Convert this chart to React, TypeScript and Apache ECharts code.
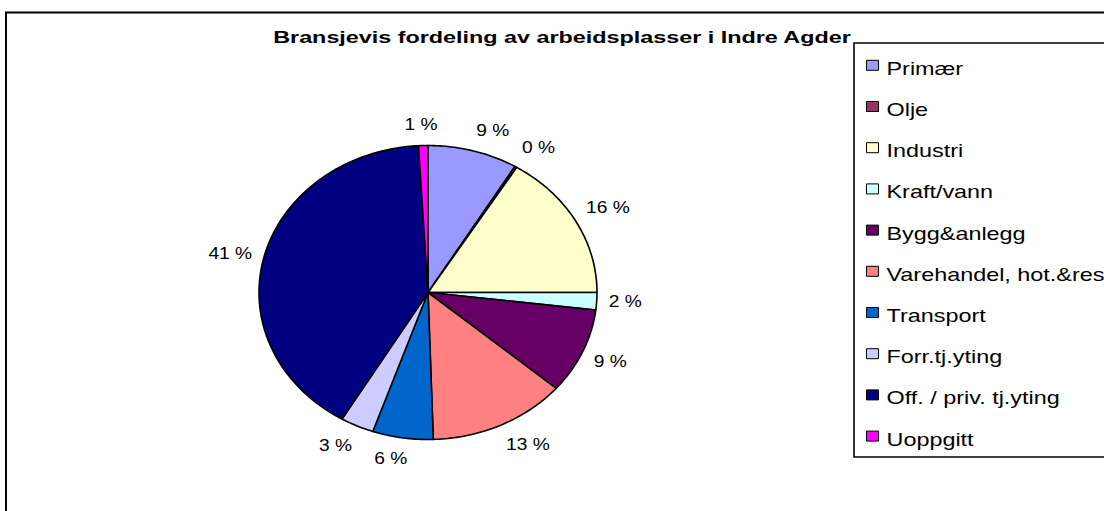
import React, { useEffect, useRef } from "react";
import * as echarts from "echarts";

const chartTitle = "Bransjevis fordeling av arbeidsplasser i Indre Agder";
const categories = [
  "Primær",
  "Olje",
  "Industri",
  "Kraft/vann",
  "Bygg&anlegg",
  "Varehandel, hot.&rest.",
  "Transport",
  "Forr.tj.yting",
  "Off. / priv. tj.yting",
  "Uoppgitt",
];
const shares = [8.6, 0.2, 16.2, 1.9, 9.4, 13.2, 5.8, 3.2, 40.6, 0.9];
const colors = [
  "#9999FF",
  "#993366",
  "#FFFFCC",
  "#CCFFFF",
  "#660066",
  "#FF8080",
  "#0066CC",
  "#CCCCFF",
  "#000080",
  "#FF00FF",
];

const FONT = "'Liberation Sans', Arial, sans-serif";

export default function App() {
  const ref = useRef<HTMLDivElement>(null);

  useEffect(() => {
    if (!ref.current) return;
    const chart = echarts.init(ref.current, undefined, { renderer: "svg" });

    const total = shares.reduce((a, b) => a + b, 0);
    const starts: number[] = [];
    let acc = 0;
    shares.forEach((v) => {
      starts.push(acc);
      acc += v;
    });

    const cx = 428;
    const cy = 292.5;
    const rx = 169;
    const ry = 147;
    const labelScale = 1.2;
    const labelSize = 16;

    const textWidth = (s: string) => {
      let w = 0;
      for (const ch of s) {
        if (ch === " ") w += 0.278;
        else if (ch === "%") w += 0.889;
        else w += 0.556;
      }
      return w * labelSize * labelScale;
    };

    const renderItem = (params: any, api: any) => {
      const i = params.dataIndex;
      const v = api.value(1) as number;
      const a0 = (starts[i] / total) * Math.PI * 2;
      const a1 = ((starts[i] + v) / total) * Math.PI * 2;
      const n = Math.max(2, Math.ceil((a1 - a0) / (Math.PI / 180)));
      const pts: number[][] = [[cx, cy]];
      for (let k = 0; k <= n; k++) {
        const t = a0 + ((a1 - a0) * k) / n;
        pts.push([cx + rx * Math.sin(t), cy - ry * Math.cos(t)]);
      }
      const tm = (a0 + a1) / 2;
      const s = Math.sin(tm);
      const c = Math.cos(tm);
      const label = Math.round((v / total) * 100) + " %";
      const hw = textWidth(label) / 2;
      const hh = 9;
      const g = 12;
      const fx = Math.sign(s) * Math.min(1, Math.abs(s) * 4);
      const fy = Math.sign(c) * Math.min(1, Math.max(0, Math.abs(c) - 0.2) * 3);
      const px = cx + (rx + g) * s + hw * fx;
      const py = cy - (ry + g) * c - hh * fy;
      return {
        type: "group",
        children: [
          {
            type: "polygon",
            shape: { points: pts },
            style: {
              fill: colors[i],
              stroke: "#000",
              lineWidth: 1.6,
              lineJoin: "round",
            },
          },
          {
            type: "text",
            x: px,
            y: py,
            scaleX: labelScale,
            style: {
              text: label,
              fontFamily: FONT,
              fontSize: labelSize,
              fill: "#000",
              align: "center",
              verticalAlign: "middle",
            },
          },
        ],
      };
    };

    const legendTop = 68.3;
    const legendStep = 41.2;
    const legendItems: any[] = [];
    categories.forEach((name, i) => {
      const yc = legendTop + legendStep * i;
      legendItems.push({
        type: "rect",
        shape: { x: 866.5, y: yc - 8, width: 12, height: 10 },
        style: { fill: colors[i], stroke: "#000", lineWidth: 1 },
        z: 10,
      });
      legendItems.push({
        type: "text",
        x: 886.5,
        y: yc,
        scaleX: 1.3,
        style: {
          text: name,
          fontFamily: FONT,
          fontSize: 18,
          fill: "#000",
          align: "left",
          verticalAlign: "middle",
        },
        z: 10,
      });
    });

    chart.setOption({
      animation: false,
      backgroundColor: "#fff",
      graphic: [
        {
          type: "rect",
          shape: { x: 6, y: 12.5, width: 1300, height: 700 },
          style: { fill: "none", stroke: "#000", lineWidth: 2 },
          z: 1,
        },
        {
          type: "rect",
          shape: { x: 854, y: 43, width: 500, height: 414 },
          style: { fill: "#fff", stroke: "#000", lineWidth: 1.6 },
          z: 5,
        },
        {
          type: "text",
          x: 562,
          y: 37.5,
          scaleX: 1.39,
          style: {
            text: chartTitle,
            fontFamily: FONT,
            fontSize: 16.8,
            fontWeight: "bold",
            fill: "#000",
            align: "center",
            verticalAlign: "middle",
          },
          z: 6,
        },
        ...legendItems,
      ],
      series: [
        {
          type: "custom",
          name: "Arbeidsplasser",
          coordinateSystem: "none",
          renderItem,
          data: shares.map((v, i) => ({ name: categories[i], value: [i, v] })),
        },
      ],
    });

    return () => {
      chart.dispose();
    };
  }, []);

  return (
    <div
      ref={ref}
      style={{ position: "fixed", left: 0, top: 0, width: 1104, height: 511 }}
    />
  );
}
